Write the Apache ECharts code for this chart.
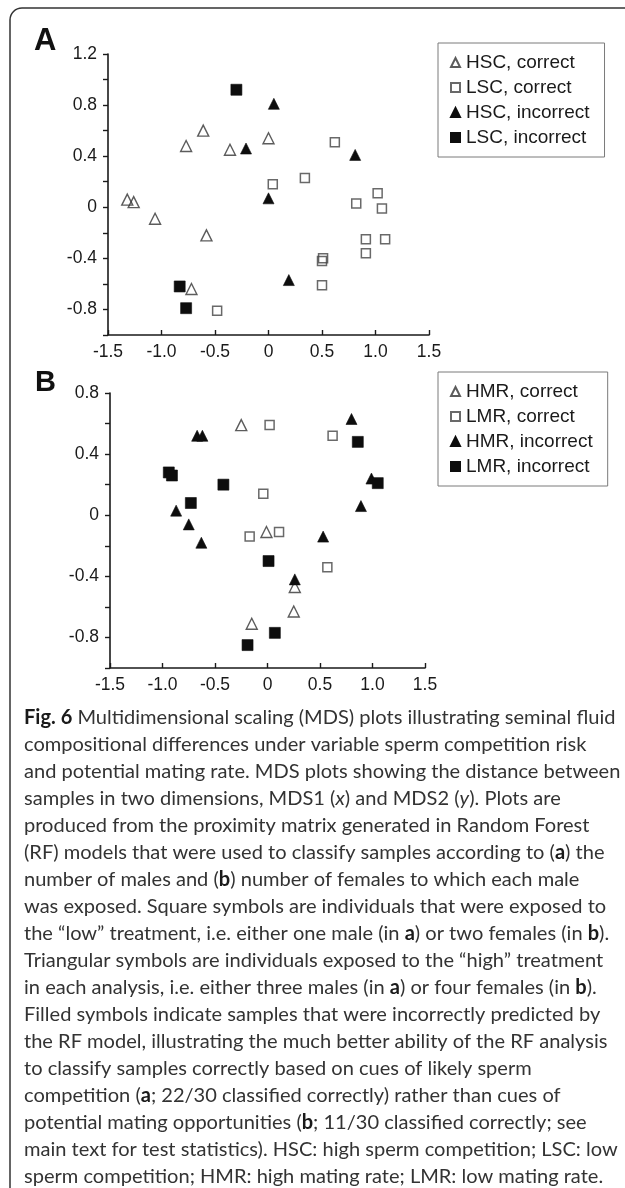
<!DOCTYPE html>
<html>
<head>
<meta charset="utf-8">
<script src="https://cdn.jsdelivr.net/npm/echarts@6/dist/echarts.min.js"></script>
<style>
html,body{margin:0;padding:0;background:#fff;}
#chart{width:625px;height:1188px;}
</style>
</head>
<body>
<div id="chart"></div>
<script>
// ---- Data: panel A (sperm competition) ----
const hscCorrectA = [[-1.32,0.06],[-1.26,0.04],[-1.06,-0.09],[-0.77,0.48],[-0.61,0.60],[-0.36,0.45],[0.00,0.54],[-0.58,-0.22],[-0.72,-0.64]];
const lscCorrectA = [[0.04,0.18],[0.34,0.23],[-0.48,-0.81],[0.62,0.51],[1.02,0.11],[0.82,0.03],[1.06,-0.01],[0.91,-0.25],[1.09,-0.25],[0.91,-0.36],[0.51,-0.40],[0.50,-0.42],[0.50,-0.61]];
const hscIncorrectA = [[0.05,0.81],[-0.21,0.46],[0.00,0.07],[0.19,-0.57],[0.81,0.41]];
const lscIncorrectA = [[-0.30,0.92],[-0.83,-0.62],[-0.77,-0.79]];

// ---- Data: panel B (mating rate) ----
const hmrCorrectB = [[-0.25,0.59],[-0.01,-0.11],[0.26,-0.47],[0.25,-0.63],[-0.15,-0.71]];
const lmrCorrectB = [[0.02,0.59],[-0.04,0.14],[-0.17,-0.14],[0.11,-0.11],[0.62,0.52],[0.57,-0.34]];
const hmrIncorrectB = [[-0.67,0.52],[-0.62,0.52],[-0.87,0.03],[-0.75,-0.06],[-0.63,-0.18],[0.26,-0.42],[0.80,0.63],[0.99,0.24],[0.89,0.06],[0.53,-0.14]];
const lmrIncorrectB = [[-0.94,0.28],[-0.91,0.26],[-0.42,0.20],[-0.73,0.08],[0.01,-0.30],[0.07,-0.77],[-0.19,-0.85],[0.86,0.48],[1.05,0.21]];

// ---- Names / tick labels ----
const namesA = ['HSC, correct','LSC, correct','HSC, incorrect','LSC, incorrect'];
const namesB = ['HMR, correct','LMR, correct','HMR, incorrect','LMR, incorrect'];
const yLabelsA = [-0.8,-0.4,0,0.4,0.8,1.2];
const yLabelsB = [-0.8,-0.4,0,0.4,0.8];
const xLabels = [-1.5,-1.0,-0.5,0,0.5,1.0,1.5];

const captionLines = [
  '{b|Fig. 6} Multidimensional scaling (MDS) plots illustrating seminal fluid',
  'compositional differences under variable sperm competition risk',
  'and potential mating rate. MDS plots showing the distance between',
  'samples in two dimensions, MDS1 ({i|x}) and MDS2 ({i|y}). Plots are',
  'produced from the proximity matrix generated in Random Forest',
  '(RF) models that were used to classify samples according to ({b|a}) the',
  'number of males and ({b|b}) number of females to which each male',
  'was exposed. Square symbols are individuals that were exposed to',
  'the \u201clow\u201d treatment, i.e. either one male (in {b|a}) or two females (in {b|b}).',
  'Triangular symbols are individuals exposed to the \u201chigh\u201d treatment',
  'in each analysis, i.e. either three males (in {b|a}) or four females (in {b|b}).',
  'Filled symbols indicate samples that were incorrectly predicted by',
  'the RF model, illustrating the much better ability of the RF analysis',
  'to classify samples correctly based on cues of likely sperm',
  'competition ({b|a}; 22/30 classified correctly) rather than cues of',
  'potential mating opportunities ({b|b}; 11/30 classified correctly; see',
  'main text for test statistics). HSC: high sperm competition; LSC: low',
  'sperm competition; HMR: high mating rate; LMR: low mating rate.'
];

// ---- Styles ----
const AX_FONT = 'Liberation Sans';
const CAP_FONT = 'Lato';
const ink = '#1a1a1a';
const markInk = '#0d0d0d';

function capSize(){
  const c = document.createElement('canvas').getContext('2d');
  c.font = '100px ' + CAP_FONT;
  const w = c.measureText('and potential mating rate. MDS plots showing the distance between').width;
  return Math.min(21, 100 * 597 / w);
}
const capFs = capSize();

function fmtY(list){
  return function(v){
    const r = Math.round(v*10)/10;
    for (const t of list){ if (Math.abs(t - r) < 1e-6) return t === 0 ? '0' : t.toFixed(1); }
    return '';
  };
}
function fmtX(v){
  const r = Math.round(v*10)/10;
  for (const t of xLabels){ if (Math.abs(t - r) < 1e-6) return t === 0 ? '0' : t.toFixed(1); }
  return '';
}

const openTri = {color:'rgba(255,255,255,0)', borderColor:'#333', borderWidth:1.4};
const openSq = {color:'rgba(255,255,255,0)', borderColor:'#444', borderWidth:1.5};
const fill = {color:markInk, borderColor:markInk, borderWidth:0.6, opacity:1};

function mkSeries(idx, names, sets){
  const defs = [
    {sym:'triangle', size:11, st:openTri},
    {sym:'rect', size:9, st:openSq},
    {sym:'triangle', size:11, st:fill},
    {sym:'rect', size:11, st:fill}
  ];
  return names.map((n,i)=>({
    name:n, type:'scatter', xAxisIndex:idx, yAxisIndex:idx,
    symbol:defs[i].sym, symbolSize:defs[i].size, itemStyle:defs[i].st,
    data:sets[i], animation:false, emphasis:{disabled:true}
  }));
}

function xAxisDef(idx){
  return {
    gridIndex:idx, type:'value', min:-1.5, max:1.5, interval:0.5,
    axisLine:{show:true, onZero:false, lineStyle:{color:ink, width:1.6}},
    axisTick:{show:true, inside:true, length:5, lineStyle:{color:ink, width:1.4}},
    axisLabel:{formatter:fmtX, color:ink, fontFamily:AX_FONT, fontSize:17.5, margin:8},
    splitLine:{show:false}
  };
}
function yAxisDef(idx, max, labels){
  return {
    gridIndex:idx, type:'value', min:-1.0, max:max, interval:0.2,
    axisLine:{show:true, onZero:false, lineStyle:{color:ink, width:1.6}},
    axisTick:{show:true, inside:false, length:5, lineStyle:{color:ink, width:1.4}},
    axisLabel:{formatter:fmtY(labels), color:ink, fontFamily:AX_FONT, fontSize:17.5, margin:11},
    splitLine:{show:false}
  };
}
function legendDef(names, top){
  return {
    data:names, orient:'vertical', left:438, top:top,
    backgroundColor:'#fff', borderColor:'#7a7a7a', borderWidth:1,
    padding:[10,15,10,12], itemWidth:9, itemHeight:9, itemGap:6,
    selectedMode:false,
    textStyle:{fontFamily:AX_FONT, fontSize:19, color:ink, padding:[0,0,0,1]}
  };
}

const graphics = [
  {type:'rect', silent:true, shape:{x:10, y:8, width:700, height:1300, r:12},
   style:{fill:'none', stroke:'#333', lineWidth:1.5}},
  {type:'text', silent:true, style:{text:'A', x:34, y:41, fontFamily:AX_FONT, fontWeight:'bold', fontSize:31, fill:'#111', verticalAlign:'middle'}},
  {type:'text', silent:true, style:{text:'B', x:35, y:383, fontFamily:AX_FONT, fontWeight:'bold', fontSize:29, fill:'#111', verticalAlign:'middle'}}
];
captionLines.forEach((t,i)=>{
  graphics.push({type:'text', silent:true, style:{
    text:t, x:24, y:718 + i*27, verticalAlign:'middle',
    fontFamily:CAP_FONT, fontSize:capFs, fill:'#333',
    rich:{
      b:{fontFamily:CAP_FONT, fontSize:capFs, fontWeight:'bold', fill:'#1a1a1a'},
      i:{fontFamily:CAP_FONT, fontSize:capFs, fontStyle:'italic', fill:'#333'}
    }
  }});
});

const chart = echarts.init(document.getElementById('chart'), null, {renderer:'canvas'});
chart.setOption({
  backgroundColor:'#fff',
  animation:false,
  grid:[
    {left:108, top:54, width:321, height:281},
    {left:110, top:393, width:315, height:275}
  ],
  xAxis:[xAxisDef(0), xAxisDef(1)],
  yAxis:[yAxisDef(0, 1.2, yLabelsA), yAxisDef(1, 0.8, yLabelsB)],
  legend:[legendDef(namesA, 43), legendDef(namesB, 372)],
  series:[].concat(
    mkSeries(0, namesA, [hscCorrectA, lscCorrectA, hscIncorrectA, lscIncorrectA]),
    mkSeries(1, namesB, [hmrCorrectB, lmrCorrectB, hmrIncorrectB, lmrIncorrectB])
  ),
  graphic:graphics
});
</script>
</body>
</html>
